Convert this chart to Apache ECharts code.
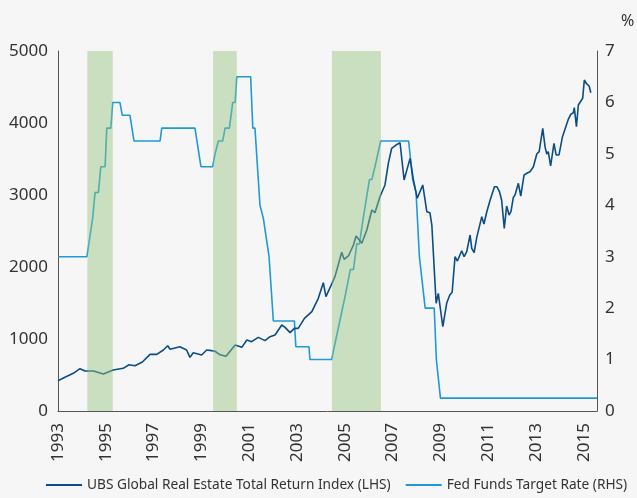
<!DOCTYPE html>
<html>
<head>
<meta charset="utf-8">
<script src="https://cdn.jsdelivr.net/npm/echarts@6/dist/echarts.min.js"></script>
<style>
  html, body { margin: 0; padding: 0; background: #f6f6f6; }
  #chart { width: 637px; height: 498px; }
</style>
</head>
<body>
<div id="chart"></div>
<script>
  // UBS Global Real Estate Total Return Index (LHS), [year, value]
  const ubsIndex = [
    [1993.00, 421], [1993.29, 468], [1993.64, 523], [1993.92, 588], [1994.13, 556],
    [1994.48, 556], [1994.90, 514], [1995.31, 569], [1995.73, 593], [1995.97, 643],
    [1996.22, 629], [1996.53, 681], [1996.85, 787], [1997.13, 787], [1997.41, 847],
    [1997.59, 907], [1997.69, 857], [1998.10, 893], [1998.38, 847], [1998.52, 745],
    [1998.66, 810], [1999.01, 778], [1999.22, 847], [1999.43, 838], [1999.57, 830],
    [1999.78, 780], [2000.03, 760], [2000.41, 917], [2000.69, 884], [2000.90, 986],
    [2001.10, 963], [2001.38, 1023], [2001.66, 977], [2001.87, 1032], [2002.08, 1056],
    [2002.36, 1194], [2002.50, 1162], [2002.71, 1088], [2002.89, 1148], [2003.05, 1148],
    [2003.31, 1287], [2003.62, 1380], [2003.89, 1565], [2004.10, 1782], [2004.21, 1588],
    [2004.42, 1741], [2004.59, 1870], [2004.87, 2205], [2004.97, 2106], [2005.15, 2153],
    [2005.36, 2306], [2005.47, 2431], [2005.71, 2329], [2005.92, 2514], [2006.13, 2792],
    [2006.26, 2754], [2006.47, 2976], [2006.68, 3139], [2006.82, 3440], [2006.96, 3649],
    [2007.14, 3694], [2007.31, 3726], [2007.48, 3208], [2007.73, 3509], [2007.87, 3208],
    [2008.03, 2954], [2008.26, 3139], [2008.43, 2768], [2008.56, 2754], [2008.64, 2583],
    [2008.77, 1796], [2008.82, 1496], [2008.91, 1634], [2009.10, 1171], [2009.26, 1496],
    [2009.39, 1611], [2009.49, 1650], [2009.61, 2143], [2009.71, 2083], [2009.89, 2226],
    [2009.99, 2143], [2010.10, 2213], [2010.24, 2444], [2010.31, 2259], [2010.41, 2199],
    [2010.52, 2412], [2010.59, 2407], [2010.73, 2699], [2010.82, 2597], [2010.94, 2768],
    [2011.08, 2931], [2011.15, 2921], [2011.26, 3115], [2011.36, 3115], [2011.47, 3046],
    [2011.56, 2931], [2011.67, 2537], [2011.77, 2847], [2011.87, 2722], [2011.95, 2768],
    [2012.05, 2967], [2012.12, 3000], [2012.26, 3162], [2012.36, 2986], [2012.50, 3278],
    [2012.61, 3301], [2012.75, 3324], [2012.89, 3393], [2013.03, 3569], [2013.13, 3602],
    [2013.28, 3926], [2013.38, 3662], [2013.45, 3569], [2013.51, 3602], [2013.61, 3403],
    [2013.75, 3718], [2013.84, 3556], [2013.96, 3556], [2014.10, 3801], [2014.18, 3801],
    [2014.35, 4051], [2014.45, 4120], [2014.56, 4143], [2014.60, 4213], [2014.69, 3949],
    [2014.77, 4250], [2014.95, 4343], [2015.02, 4597], [2015.12, 4542], [2015.22, 4514],
    [2015.29, 4421]
  ];

  // Fed Funds Target Rate (RHS), %, [year, rate]
  const fedRate = [
    [1993.00, 3.0], [1994.21, 3.0], [1994.45, 3.75], [1994.55, 4.25], [1994.69, 4.25],
    [1994.79, 4.75], [1994.97, 4.75], [1995.04, 5.5], [1995.21, 5.5], [1995.29, 6.0],
    [1995.59, 6.0], [1995.69, 5.75], [1996.01, 5.75], [1996.18, 5.25], [1997.27, 5.25],
    [1997.34, 5.5], [1998.73, 5.5], [1998.98, 4.75], [1999.47, 4.75], [1999.57, 5.0],
    [1999.71, 5.25], [1999.89, 5.25], [1999.99, 5.5], [2000.17, 5.5], [2000.31, 6.0],
    [2000.41, 6.0], [2000.48, 6.5], [2001.06, 6.5], [2001.15, 5.5], [2001.24, 5.5],
    [2001.45, 4.0], [2001.59, 3.75], [2001.66, 3.75], [2001.83, 3.0], [2002.01, 1.75],
    [2002.89, 1.75], [2002.95, 1.25], [2003.50, 1.25], [2003.54, 1.0], [2004.45, 1.0],
    [2004.56, 1.25], [2004.63, 1.25], [2004.79, 1.75], [2004.85, 1.75], [2005.02, 2.25],
    [2005.09, 2.25], [2005.23, 2.75], [2005.36, 2.75], [2005.50, 3.25], [2005.61, 3.25],
    [2005.77, 3.75], [2005.85, 3.75], [2006.03, 4.5], [2006.13, 4.5], [2006.26, 4.75],
    [2006.33, 4.75], [2006.50, 5.25], [2007.67, 5.25], [2007.84, 4.5], [2007.98, 4.25],
    [2008.12, 3.0], [2008.18, 3.0], [2008.36, 2.0], [2008.74, 2.0], [2008.83, 1.0],
    [2008.90, 1.0], [2009.00, 0.25], [2015.55, 0.25]
  ];

  // Fed tightening cycles (shaded)
  const hikeCycles = [[1994.23, 1995.29], [1999.49, 2000.48], [2004.46, 2006.51]];

  const startYear = 1993;
  const endYear = 2015.55;
  const yearTicks = [1993, 1995, 1997, 1999, 2001, 2003, 2005, 2007, 2009, 2011, 2013, 2015];
  const leftTicks = [0, 1000, 2000, 3000, 4000, 5000];
  const rightTicks = [0, 1, 2, 3, 4, 5, 6, 7];

  const seriesNames = ['UBS Global Real Estate Total Return Index (LHS)', 'Fed Funds Target Rate (RHS)'];

  // x is counted in years since 1993 so the axis min is a multiple of the interval
  const shift = (arr) => arr.map(p => [p[0] - startYear, p[1]]);

  var myChart = echarts.init(document.getElementById('chart'));
  var axisText = { color: '#333', fontSize: 17, fontFamily: 'Noto Sans' };
  var axisLine = { show: true, lineStyle: { color: '#555', width: 1 } };

  var option = {
    backgroundColor: '#f6f6f6',
    animation: false,
    grid: { left: 58, right: 40, top: 51, bottom: 87, outerBoundsMode: 'none' },
    legend: {
      data: seriesNames,
      left: 41,
      bottom: 1,
      width: 630,
      icon: 'rect',
      itemWidth: 36,
      itemHeight: 2,
      itemGap: 15,
      textStyle: { color: '#333', fontSize: 13.7, fontFamily: 'Noto Sans' }
    },
    xAxis: {
      type: 'value',
      min: 0,
      max: endYear - startYear,
      interval: yearTicks[1] - yearTicks[0],
      axisLine: axisLine,
      axisTick: { show: false },
      splitLine: { show: false },
      axisLabel: Object.assign({}, axisText, {
        rotate: 90,
        margin: 12,
        showMaxLabel: false,
        formatter: v => String(v + startYear)
      })
    },
    yAxis: [
      {
        type: 'value',
        min: leftTicks[0],
        max: leftTicks[leftTicks.length - 1],
        interval: leftTicks[1] - leftTicks[0],
        axisLine: axisLine,
        axisTick: { show: false },
        splitLine: { show: false },
        axisLabel: Object.assign({}, axisText, { margin: 10, formatter: v => String(v) })
      },
      {
        type: 'value',
        name: '%',
        nameLocation: 'end',
        nameGap: 22,
        nameTextStyle: { color: '#333', fontSize: 16, fontFamily: 'Noto Sans', align: 'left', padding: [0, 0, 0, 24] },
        min: rightTicks[0],
        max: rightTicks[rightTicks.length - 1],
        interval: rightTicks[1] - rightTicks[0],
        axisLine: axisLine,
        axisTick: { show: false },
        splitLine: { show: false },
        axisLabel: Object.assign({}, axisText, { margin: 8 })
      }
    ],
    series: [
      {
        name: seriesNames[0],
        type: 'line',
        yAxisIndex: 0,
        symbol: 'none',
        lineStyle: { color: '#0b4d86', width: 1.6 },
        itemStyle: { color: '#0b4d86' },
        data: shift(ubsIndex),
        z: 3
      },
      {
        name: seriesNames[1],
        type: 'line',
        yAxisIndex: 1,
        symbol: 'none',
        lineStyle: { color: '#1f9ad6', width: 1.6 },
        itemStyle: { color: '#1f9ad6' },
        data: shift(fedRate),
        z: 2,
        markArea: {
          silent: true,
          z: 10,
          itemStyle: { color: 'rgba(147,196,127,0.45)' },
          data: hikeCycles.map(c => [{ xAxis: c[0] - startYear }, { xAxis: c[1] - startYear }])
        }
      }
    ]
  };
  myChart.setOption(option);
</script>
</body>
</html>
